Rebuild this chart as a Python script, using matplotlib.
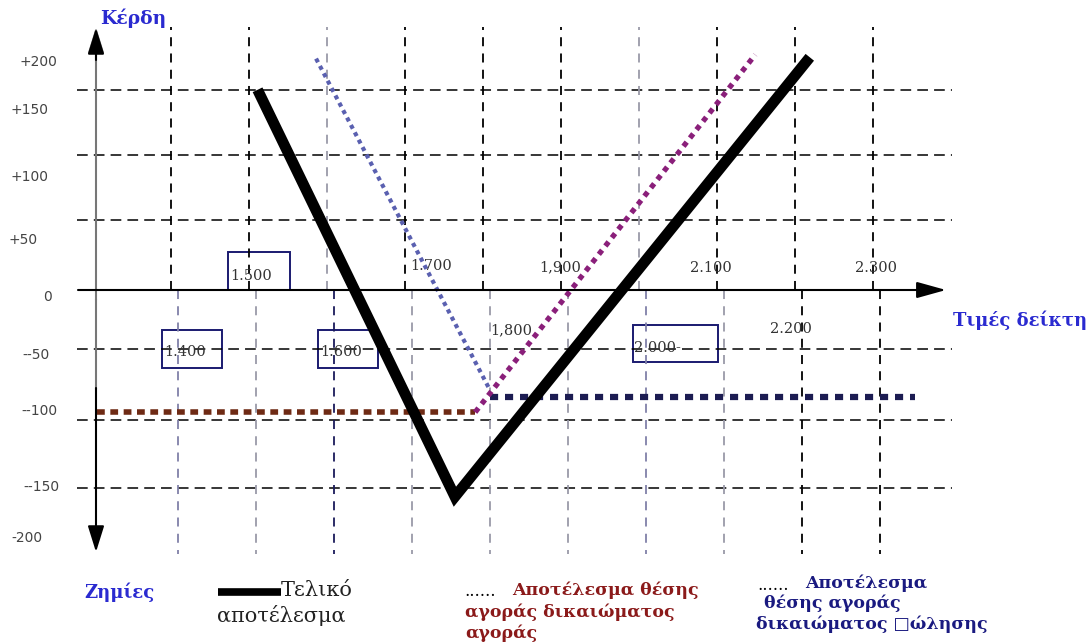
import matplotlib
matplotlib.use("Agg")
import matplotlib.pyplot as plt
from matplotlib.patches import Rectangle

# τιμές δείκτη και αποτελέσματα (μονάδες του διαγράμματος)
tiko_x = [1502, 1755, 2210]          # Τελικό αποτέλεσμα
tiko_y = [154, -159, 179]
put_x = [1577, 1800]                 # δικαίωμα πώλησης (κάθοδος)
put_y = [178, -77]
put_flat_x = [1800, 2345]            # δικαίωμα πώλησης (οριζόντιο)
put_flat_y = [-82, -82]
call_flat_x = [1296, 1781]           # δικαίωμα αγοράς (οριζόντιο)
call_flat_y = [-94, -94]
call_x = [1781, 2140]                # δικαίωμα αγοράς (άνοδος)
call_y = [-94, 181]

grid_x = [1400, 1500, 1600, 1700, 1800, 1900, 2000, 2100, 2200, 2300]
grid_y = [154, 104, 54, -45, -100, -152]

ylab = ["+200", "+150", "+100", "+50", "0", "--50", "--100", "--150", "-200"]
ylab_py = [62, 110, 177, 240, 297, 355, 411, 487, 538]
ylab_px = [57, 48, 48, 38, 52, 50, 58, 60, 43]

W, H = 1091, 643
def at(px, py):
    return px / W, 1 - py / H

fig = plt.figure(figsize=(10.91, 6.43), dpi=100)
ax = fig.add_axes([0, 0, 1, 1])
ax.set_xlim(1400 - 178 / 0.78, 1400 + (W - 178) / 0.78)
ax.set_ylim(-(H - 290) / 1.3, 290 / 1.3)
ax.axis("off")

# πλέγμα
ax.hlines(grid_y, 1270, 2392, colors="black", linestyles=(0, (7, 4)), lw=1.1)
top_cols = ["black", "black", "#9a9aa8", "black", "black", "black", "#9a9aa8", "black", "black", "black"]
bot_cols = ["#8080a8", "#9a9aa8", "#1a1a5a", "#9a9aa8", "#9a9aa8", "#9a9aa8", "#8080a8", "#9a9aa8", "black", "black"]
for gx, ct, cb in zip(grid_x, top_cols, bot_cols):
    ax.vlines(gx - 9, 0, 202, colors=ct, linestyles=(0, (5, 4)), lw=1.3)
    ax.vlines(gx, 0, -203, colors=cb, linestyles=(0, (5, 4)), lw=1.3)

# άξονες
arrow = "-|>,head_length=1.6,head_width=0.5"
ax.annotate("", xy=at(96, 27), xytext=at(96, 300), xycoords="axes fraction",
            arrowprops=dict(arrowstyle=arrow, color="#777777", lw=1.5, shrinkA=0, shrinkB=0))
ax.annotate("", xy=at(96, 28), xytext=at(96, 60), xycoords="axes fraction",
            arrowprops=dict(arrowstyle=arrow, color="black", lw=1.5, shrinkA=0, shrinkB=0))
ax.annotate("", xy=at(96, 552), xytext=at(96, 388), xycoords="axes fraction",
            arrowprops=dict(arrowstyle=arrow, color="black", lw=1.5, shrinkA=0, shrinkB=0))
ax.plot([at(96, 300)[0], at(96, 388)[0]], [at(96, 300)[1], at(96, 388)[1]],
        transform=ax.transAxes, color="#777777", lw=1.5)
ax.annotate("", xy=at(946, 290), xytext=at(78, 290), xycoords="axes fraction",
            arrowprops=dict(arrowstyle="-|>,head_length=1.8,head_width=0.5", color="black", lw=1.5,
                            shrinkA=0, shrinkB=0))

# γραμμές αποτελεσμάτων
ax.plot(call_flat_x, call_flat_y, color="#6e2a14", lw=4, linestyle=(0, (1.4, 1.0)))
ax.plot(put_flat_x, put_flat_y, color="#1c1c52", lw=4.5, linestyle=(0, (1.3, 1.1)))
ax.plot(put_x, put_y, color="#5a60b0", lw=3, linestyle=(0, (1, 1)))
ax.plot(call_x, call_y, color="#8a1f7a", lw=3.8, linestyle=(0, (1, 1)))
ax.plot(tiko_x, tiko_y, color="black", lw=7.8, solid_capstyle="butt", solid_joinstyle="miter")

# ετικέτες άξονα y
for s, px, py in zip(ylab, ylab_px, ylab_py):
    ax.text(*at(px, py), s, transform=ax.transAxes, fontsize=10, color="#444444",
            ha="right", va="center", family="DejaVu Sans")

# πλαίσια τιμών
boxes = [(228, 252, 290, 290), (162, 330, 222, 368), (318, 330, 378, 368), (633, 325, 718, 362)]
for x0, y0, x1, y1 in boxes:
    bx, by = at(x0, y1)
    ax.add_patch(Rectangle((bx, by), (x1 - x0) / W, (y1 - y0) / H, transform=ax.transAxes,
                           fill=False, edgecolor="#1a1a70", lw=1.4))

xlabs = [("1.500", 230, 276, "left"), ("1.400", 164, 352, "left"), ("1.600", 320, 352, "left"),
         ("2.000-", 634, 348, "left"), ("1.700", 431, 266, "center"), ("1,900", 560, 267, "center"),
         ("2.100", 711, 268, "center"), ("2.300", 876, 268, "center"), ("1,800", 511, 330, "center"),
         ("2.200", 791, 329, "center")]
for s, px, py, ha in xlabs:
    ax.text(*at(px, py), s, transform=ax.transAxes, fontsize=10.5, color="#333333",
            ha=ha, va="center", family="DejaVu Serif")

blue = "#2a2ad0"
bold = dict(transform=ax.transAxes, fontweight="bold", family="DejaVu Serif", ha="left", va="center")
ax.text(*at(100, 18), "Κέρδη", fontsize=13.5, color=blue, **bold)
ax.text(*at(953, 320), "Τιμές δείκτη", fontsize=13, color=blue, **bold)
ax.text(*at(84, 592), "Ζημίες", fontsize=13, color=blue, **bold)

# υπόμνημα
ax.plot([at(218, 592)[0], at(281, 592)[0]], [at(218, 592)[1]] * 2, transform=ax.transAxes,
        color="black", lw=5.5, solid_capstyle="butt")
ax.text(*at(281, 590), "Τελικό", transform=ax.transAxes, fontsize=15, color="#222222",
        family="DejaVu Serif", ha="left", va="center")
ax.text(*at(217, 615), "αποτέλεσμα", transform=ax.transAxes, fontsize=15, color="#222222",
        family="DejaVu Serif", ha="left", va="center")

red = "#8b1a1a"
ax.text(*at(464, 592), "......", transform=ax.transAxes, fontsize=12, color="black",
        family="DejaVu Serif", ha="left", va="center")
ax.text(*at(512, 590), "Αποτέλεσμα θέσης", fontsize=12.5, color=red, **bold)
ax.text(*at(465, 612), "αγοράς δικαιώματος", fontsize=12.5, color=red, **bold)
ax.text(*at(465, 633), "αγοράς", fontsize=12.5, color=red, **bold)

navy = "#1a1a80"
ax.text(*at(757, 585), "......", transform=ax.transAxes, fontsize=12, color="black",
        family="DejaVu Serif", ha="left", va="center")
ax.text(*at(805, 583), "Αποτέλεσμα", fontsize=12.5, color=navy, **bold)
ax.text(*at(764, 603), "θέσης αγοράς", fontsize=12.5, color=navy, **bold)
ax.text(*at(756, 624), "δικαιώματος \u25a1ώλησης", fontsize=12.5, color=navy, **bold)

fig.savefig("out.png", dpi=100)
